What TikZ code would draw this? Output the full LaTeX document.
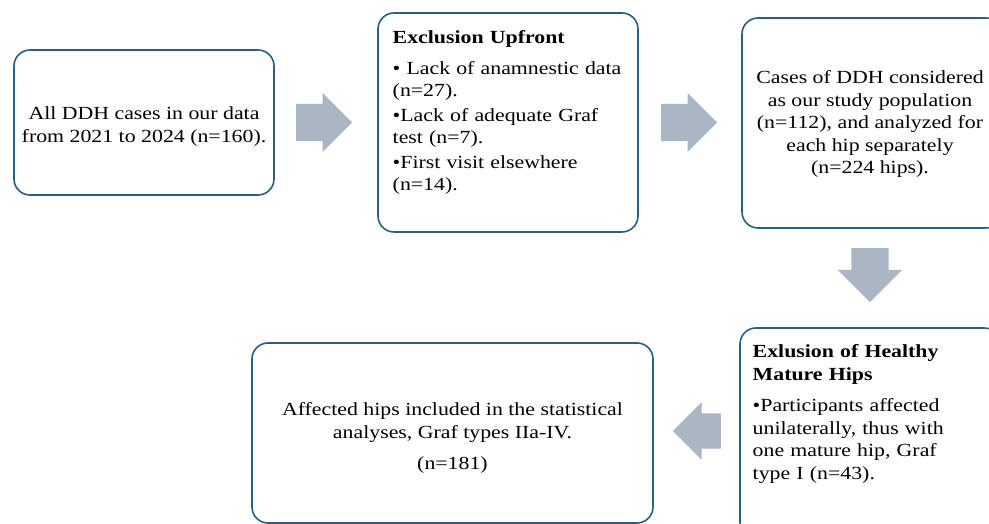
\documentclass[tikz,border=0pt]{standalone}
\usepackage{fontspec}
\setmainfont{Liberation Serif}[FakeStretch=1.18]
\usepackage{xcolor}
\definecolor{boxline}{HTML}{2B5E80}
\definecolor{arrowgray}{HTML}{AAB6C3}
\usetikzlibrary{positioning,shapes.arrows}

\begin{document}
\begin{tikzpicture}[x=1pt, y=1pt,
    flowbox/.style={draw=boxline, line width=1.6pt, rounded corners=16pt, fill=white,
      minimum width=260pt, inner sep=0pt},
    blockarrow/.style={single arrow, fill=arrowgray, draw=none, inner ysep=18.5pt, inner xsep=0pt,
      minimum height=56pt, single arrow head extend=11pt, single arrow tip angle=90, anchor=tail},
    boxtext/.style={font=\fontsize{18.5}{22.5}\selectfont, align=center},
    listtext/.style={font=\fontsize{18.5}{22.5}\selectfont, align=left, text width=245pt}]
    \useasboundingbox (0,0) rectangle (989,524);

    % Boxes
    \node[flowbox, minimum height=145pt] (all) at (144,401.5) {};
    \node[flowbox, minimum height=219pt] (upfront) at (508,401.5) {};
    \node[flowbox, minimum height=210pt] (population) at (872,401) {};
    \node[flowbox, minimum height=210pt] (healthy) at (870,91) {};
    \node[flowbox, minimum width=401pt, minimum height=180pt] (included) at (452.5,91) {};

    % Texts
    \node[boxtext] (alltext) at ([yshift=-4pt]all) {All DDH cases in our data\\from 2021 to 2024 (n=160).};
    \node[listtext, anchor=north west] (upfronttext) at ([xshift=12pt, yshift=-15pt]upfront.north west)
      {\textbf{Exclusion Upfront}\\[8pt]
       \textbullet\ Lack of anamnestic data\\(n=27).\\[2pt]
       \textbullet Lack of adequate Graf\\test (n=7).\\[2pt]
       \textbullet First visit elsewhere\\(n=14).};
    \node[boxtext] (poptext) at ([xshift=-2pt, yshift=-1pt]population) {Cases of DDH considered\\as our study population\\(n=112), and analyzed for\\each hip separately\\(n=224 hips).};
    \node[listtext, anchor=north west] (healthytext) at ([xshift=10pt, yshift=-14pt]healthy.north west)
      {\textbf{Exlusion of Healthy}\\\textbf{Mature Hips}\\[9pt]
       \textbullet Participants affected\\unilaterally, thus with\\one mature hip, Graf\\type I (n=43).};
    \node[boxtext] (inctext) at ([yshift=-5pt]included) {Affected hips included in the statistical\\analyses, Graf types IIa-IV.\\[9pt](n=181)};

    % Block arrows
    \node[blockarrow] (arrowa) at (296,401.5) {};
    \node[blockarrow] (arrowb) at (661,401.5) {};
    \node[blockarrow, shape border rotate=270, minimum height=54pt, inner xsep=18.5pt, inner ysep=0pt,
      single arrow head extend=13.5pt] (arrowc) at (870,276) {};
    \node[blockarrow, shape border rotate=180, minimum height=48pt, inner ysep=17.5pt] (arrowd) at (721,93) {};
\end{tikzpicture}
\end{document}
